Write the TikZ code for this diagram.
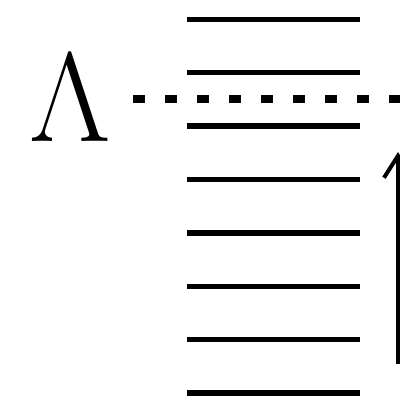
\documentclass[tikz,border=0pt]{standalone}
\usepackage{fix-cm}
\usetikzlibrary{arrows.meta}
\tikzset{
  level/.style={line width=5.5pt},
  cutoff/.style={line width=8pt, dash pattern=on 12pt off 20pt},
  gap/.style={line width=4pt, -{Straight Barb[length=22pt,width=28pt,line width=4pt]}},
}
\begin{document}
\begin{tikzpicture}[x=1pt,y=-1pt]
\useasboundingbox (0,0) rectangle (400,400);
\foreach \i/\y in {1/19.5,2/72.5,3/126,4/179.5,5/233,6/286.5,7/339.5,8/393}{
  \coordinate (l\i) at (187,\y);
  \coordinate (r\i) at (360,\y);
  \draw[level] (l\i) -- (r\i);
}
\node[inner sep=0pt, font=\fontsize{127}{127}\selectfont] (lam) at (70,98.5) {$\Lambda$};
\coordinate (ds) at (133,99);
\coordinate (de) at (420,99);
\draw[cutoff] (ds) -- (de);
\coordinate (ab) at (398,364);
\coordinate (at) at (398,152);
\draw[gap] (ab) -- (at);
\end{tikzpicture}
\end{document}
